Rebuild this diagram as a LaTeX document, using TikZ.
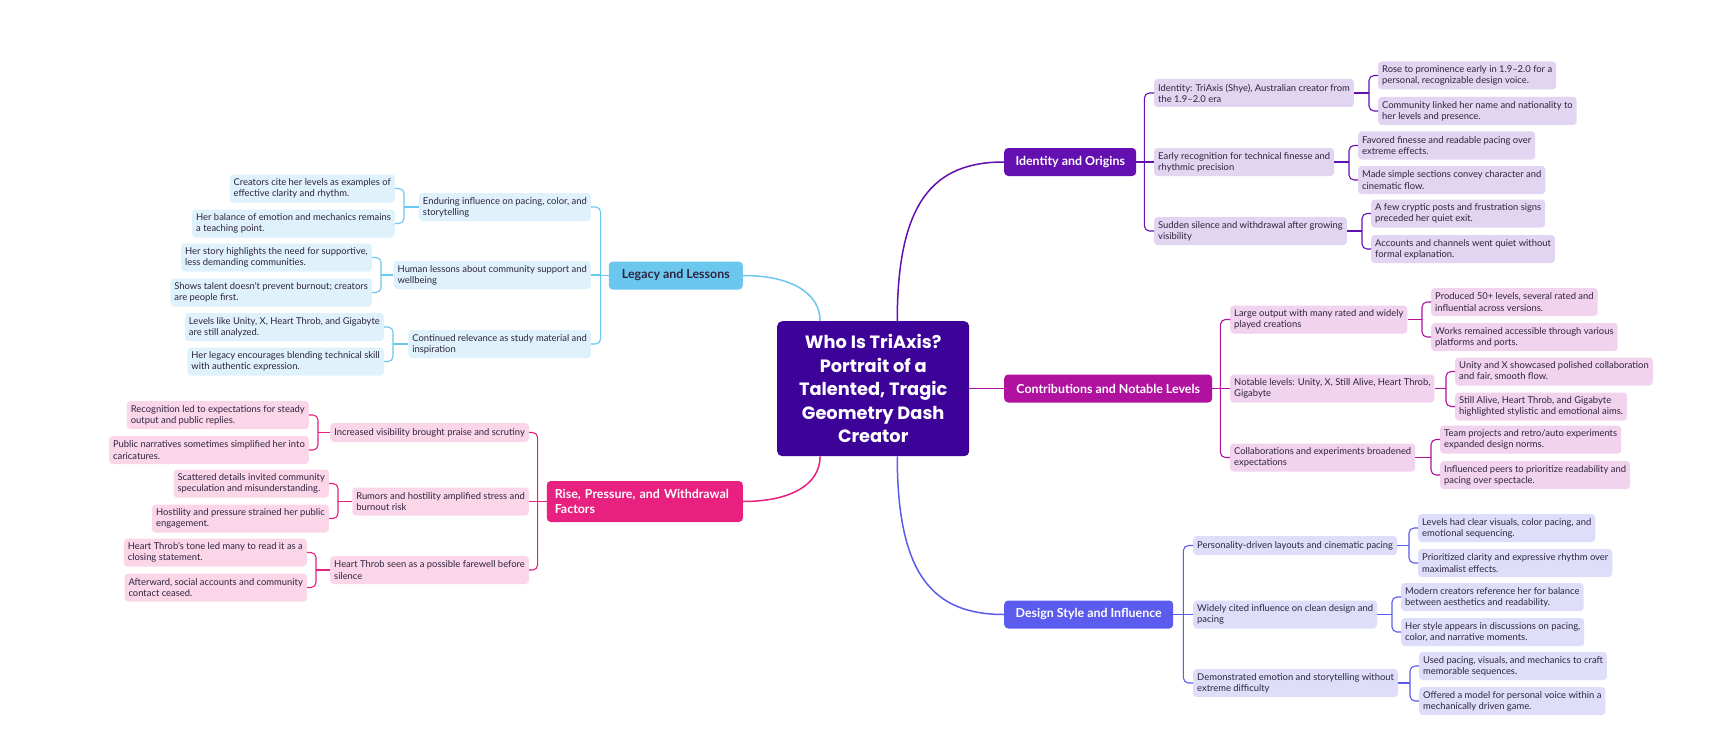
\documentclass[tikz,border=0pt]{standalone}
\usepackage{fontspec}
\usetikzlibrary{calc}
\newfontfamily\latofont{Lato}
\newfontfamily\popfont{Poppins}
\newcommand\smfont{\latofont\fontsize{9.4}{11.2}\selectfont}
\newcommand\brfont{\latofont\bfseries\fontsize{12.4}{15}\selectfont}
\newcommand\rtfont{\popfont\bfseries\fontsize{17.8}{23.5}\selectfont}
\definecolor{rootc}{HTML}{3D0399}
\definecolor{Icol}{HTML}{6410B0}
\definecolor{Ilight}{HTML}{E2D5F1}
\definecolor{Ccol}{HTML}{B0129F}
\definecolor{Clight}{HTML}{F2D3EE}
\definecolor{Dcol}{HTML}{5B5BEE}
\definecolor{Dlight}{HTML}{DEDEFB}
\definecolor{Lcol}{HTML}{6CC7EF}
\definecolor{Llight}{HTML}{DFF1FB}
\definecolor{Rcol}{HTML}{E8207F}
\definecolor{Rlight}{HTML}{FBD6E8}
\definecolor{txt}{HTML}{2E2440}
\tikzset{
  sub/.style={rounded corners=3.5pt, inner xsep=4pt, inner ysep=1pt, minimum height=28pt, align=left, font=\smfont, text=txt},
  one/.style={minimum height=19pt},
  subI/.style={sub, fill=Ilight}, subC/.style={sub, fill=Clight}, subD/.style={sub, fill=Dlight},
  subL/.style={sub, fill=Llight}, subR/.style={sub, fill=Rlight},
  branch/.style={rounded corners=4pt, minimum height=28pt, inner sep=0pt, font=\brfont, text=white},
  lnI/.style={draw=Icol, line width=1.1pt}, lnC/.style={draw=Ccol, line width=1.1pt},
  lnD/.style={draw=Dcol, line width=1.1pt}, lnL/.style={draw=Lcol, line width=1.1pt},
  lnR/.style={draw=Rcol, line width=1.1pt},
}
% right bracket: child, gc1, gc2, style
\newcommand\myrbr[4]{%
  \draw[#4] (#1.east) -- ($(#2.west |- #1.east)+(-9pt,0pt)$);
  \draw[#4, rounded corners=5pt] (#2.west) -| ($(#2.west |- #1.east)+(-9pt,0pt)$) |- (#3.west);}
\newcommand\mylbr[4]{%
  \draw[#4] (#1.west) -- ($(#2.east |- #1.west)+(9pt,0pt)$);
  \draw[#4, rounded corners=5pt] (#2.east) -| ($(#2.east |- #1.west)+(9pt,0pt)$) |- (#3.east);}
\begin{document}
\begin{tikzpicture}[x=1pt,y=-1pt]
\useasboundingbox[fill=white] (0,0) rectangle (1720,741);

% root
\node[fill=rootc, rounded corners=5pt, minimum width=192pt, minimum height=135pt, anchor=north west, align=center, font=\rtfont, text=white, inner sep=0pt] (root) at (777,321) {Who Is TriAxis?\\Portrait of a\\Talented, Tragic\\Geometry Dash\\Creator};

% branches
\node[branch, fill=Icol, minimum width=132pt, anchor=west] (I) at (1004,162) {Identity and Origins};
\node[branch, fill=Ccol, minimum width=208pt, anchor=west] (C) at (1004,388.5) {Contributions and Notable Levels};
\node[branch, fill=Dcol, minimum width=169pt, anchor=west] (D) at (1004,614.5) {Design Style and Influence};
\node[branch, fill=Lcol, minimum width=134pt, anchor=east, text=txt] (L) at (743,275.5) {Legacy and Lessons};
\node[branch, fill=Rcol, minimum width=196pt, minimum height=41pt, anchor=east, align=left, text width=180pt] (R) at (743,501.5) {Rise, Pressure, and Withdrawal\\Factors};

% root connectors
\coordinate (rtI) at ($(root.north west)!0.625!(root.north east)$);
\coordinate (rtD) at ($(root.south west)!0.625!(root.south east)$);
\coordinate (rtL) at ($(root.north west)!0.224!(root.north east)$);
\coordinate (rtR) at ($(root.south west)!0.224!(root.south east)$);
\draw[draw=Icol, line width=1.5pt] (rtI) .. controls ($(rtI)+(0pt,120pt)$) and ($(I.west)+(-70pt,0pt)$) .. (I.west);
\draw[draw=Dcol, line width=1.5pt] (rtD) .. controls ($(rtD)+(0pt,-120pt)$) and ($(D.west)+(-70pt,0pt)$) .. (D.west);
\draw[draw=Lcol, line width=1.5pt] (L.east) .. controls ($(L.east)+(48pt,0pt)$) and ($(rtL)+(0pt,28pt)$) .. (rtL);
\draw[draw=Rcol, line width=1.5pt] (R.east) .. controls ($(R.east)+(48pt,0pt)$) and ($(rtR)+(0pt,-28pt)$) .. (rtR);
\draw[draw=Ccol, line width=1.5pt] (root.east |- C.west) -- (C.west);

% Identity
\node[subI, anchor=west] (I1) at (1154,93) {Identity: TriAxis (Shye), Australian creator from\\the 1.9–2.0 era};
\node[subI, anchor=west] (I2) at (1154,162) {Early recognition for technical finesse and\\rhythmic precision};
\node[subI, anchor=west] (I3) at (1154,231) {Sudden silence and withdrawal after growing\\visibility};
\node[subI, anchor=west] (I1a) at (1378,75.5) {Rose to prominence early in 1.9–2.0 for a\\personal, recognizable design voice.};
\node[subI, anchor=west] (I1b) at (1378,111) {Community linked her name and nationality to\\her levels and presence.};
\node[subI, anchor=west] (I2a) at (1358,145.5) {Favored finesse and readable pacing over\\extreme effects.};
\node[subI, anchor=west] (I2b) at (1358,180) {Made simple sections convey character and\\cinematic flow.};
\node[subI, anchor=west] (I3a) at (1371,213.5) {A few cryptic posts and frustration signs\\preceded her quiet exit.};
\node[subI, anchor=west] (I3b) at (1371,249) {Accounts and channels went quiet without\\formal explanation.};
\coordinate (Itr) at ($(I.east)+(8pt,0pt)$);
\draw[lnI] (I.east) -- (Itr);
\draw[lnI, rounded corners=5pt] (I1.west) -| (Itr) |- (I3.west);
\draw[lnI] (I2.west) -- (I2.west -| Itr);
\myrbr{I1}{I1a}{I1b}{lnI}
\myrbr{I2}{I2a}{I2b}{lnI}
\myrbr{I3}{I3a}{I3b}{lnI}

% Contributions
\node[subC, anchor=west] (C1) at (1230,319.5) {Large output with many rated and widely\\played creations};
\node[subC, anchor=west] (C2) at (1230,388.5) {Notable levels: Unity, X, Still Alive, Heart Throb,\\Gigabyte};
\node[subC, anchor=west] (C3) at (1230,457.5) {Collaborations and experiments broadened\\expectations};
\node[subC, anchor=west] (C1a) at (1431,302) {Produced 50+ levels, several rated and\\influential across versions.};
\node[subC, anchor=west] (C1b) at (1431,337) {Works remained accessible through various\\platforms and ports.};
\node[subC, anchor=west] (C2a) at (1455,371.5) {Unity and X showcased polished collaboration\\and fair, smooth flow.};
\node[subC, anchor=west] (C2b) at (1455,406.5) {Still Alive, Heart Throb, and Gigabyte\\highlighted stylistic and emotional aims.};
\node[subC, anchor=west] (C3a) at (1440,439.5) {Team projects and retro/auto experiments\\expanded design norms.};
\node[subC, anchor=west] (C3b) at (1440,475) {Influenced peers to prioritize readability and\\pacing over spectacle.};
\coordinate (Ctr) at ($(C.east)+(8pt,0pt)$);
\draw[lnC] (C.east) -- (Ctr);
\draw[lnC, rounded corners=5pt] (C1.west) -| (Ctr) |- (C3.west);
\draw[lnC] (C2.west) -- (C2.west -| Ctr);
\myrbr{C1}{C1a}{C1b}{lnC}
\myrbr{C2}{C2a}{C2b}{lnC}
\myrbr{C3}{C3a}{C3b}{lnC}

% Design
\node[subD, one, anchor=west] (D1) at (1193,545.5) {Personality-driven layouts and cinematic pacing};
\node[subD, anchor=west] (D2) at (1193,614.5) {Widely cited influence on clean design and\\pacing};
\node[subD, anchor=west] (D3) at (1193,683) {Demonstrated emotion and storytelling without\\extreme difficulty};
\node[subD, anchor=west] (D1a) at (1418,528) {Levels had clear visuals, color pacing, and\\emotional sequencing.};
\node[subD, anchor=west] (D1b) at (1418,563) {Prioritized clarity and expressive rhythm over\\maximalist effects.};
\node[subD, anchor=west] (D2a) at (1401,597) {Modern creators reference her for balance\\between aesthetics and readability.};
\node[subD, anchor=west] (D2b) at (1401,632) {Her style appears in discussions on pacing,\\color, and narrative moments.};
\node[subD, anchor=west] (D3a) at (1419,666) {Used pacing, visuals, and mechanics to craft\\memorable sequences.};
\node[subD, anchor=west] (D3b) at (1419,701) {Offered a model for personal voice within a\\mechanically driven game.};
\coordinate (Dtr) at ($(D.east)+(10pt,0pt)$);
\draw[lnD] (D.east) -- (Dtr);
\draw[lnD, rounded corners=5pt] (D1.west) -| (Dtr) |- (D3.west);
\draw[lnD] (D2.west) -- (D2.west -| Dtr);
\myrbr{D1}{D1a}{D1b}{lnD}
\myrbr{D2}{D2a}{D2b}{lnD}
\myrbr{D3}{D3a}{D3b}{lnD}

% Legacy
\node[subL, anchor=east] (L1) at (591,207) {Enduring influence on pacing, color, and\\storytelling};
\node[subL, anchor=east] (L2) at (591,275) {Human lessons about community support and\\wellbeing};
\node[subL, anchor=east] (L3) at (591,344) {Continued relevance as study material and\\inspiration};
\node[subL, anchor=east] (L1a) at (395,188.5) {Creators cite her levels as examples of\\effective clarity and rhythm.};
\node[subL, anchor=east] (L1b) at (395,223.5) {Her balance of emotion and mechanics remains\\a teaching point.};
\node[subL, anchor=east] (L2a) at (372,257.5) {Her story highlights the need for supportive,\\less demanding communities.};
\node[subL, anchor=east] (L2b) at (372,292.5) {Shows talent doesn't prevent burnout; creators\\are people first.};
\node[subL, anchor=east] (L3a) at (384,327) {Levels like Unity, X, Heart Throb, and Gigabyte\\are still analyzed.};
\node[subL, anchor=east] (L3b) at (384,361.5) {Her legacy encourages blending technical skill\\with authentic expression.};
\coordinate (Ltr) at ($(L.west)+(-8pt,0pt)$);
\draw[lnL] (L.west) -- (Ltr);
\draw[lnL, rounded corners=5pt] (L1.east) -| (Ltr) |- (L3.east);
\draw[lnL] (L2.east) -- (L2.east -| Ltr);
\mylbr{L1}{L1a}{L1b}{lnL}
\mylbr{L2}{L2a}{L2b}{lnL}
\mylbr{L3}{L3a}{L3b}{lnL}

% Rise
\node[subR, one, anchor=east] (R1) at (529,432.5) {Increased visibility brought praise and scrutiny};
\node[subR, anchor=east] (R2) at (529,501.5) {Rumors and hostility amplified stress and\\burnout risk};
\node[subR, anchor=east] (R3) at (529,570) {Heart Throb seen as a possible farewell before\\silence};
\node[subR, anchor=east] (R1a) at (309,415) {Recognition led to expectations for steady\\output and public replies.};
\node[subR, anchor=east] (R1b) at (309,450) {Public narratives sometimes simplified her into\\caricatures.};
\node[subR, anchor=east] (R2a) at (329,483.5) {Scattered details invited community\\speculation and misunderstanding.};
\node[subR, anchor=east] (R2b) at (329,518.5) {Hostility and pressure strained her public\\engagement.};
\node[subR, anchor=east] (R3a) at (307,552.5) {Heart Throb's tone led many to read it as a\\closing statement.};
\node[subR, anchor=east] (R3b) at (307,587.5) {Afterward, social accounts and community\\contact ceased.};
\coordinate (Rtr) at ($(R.west)+(-9pt,0pt)$);
\draw[lnR] (R.west) -- (Rtr);
\draw[lnR, rounded corners=5pt] (R1.east) -| (Rtr) |- (R3.east);
\draw[lnR] (R2.east) -- (R2.east -| Rtr);
\mylbr{R1}{R1a}{R1b}{lnR}
\mylbr{R2}{R2a}{R2b}{lnR}
\mylbr{R3}{R3a}{R3b}{lnR}
\end{tikzpicture}
\end{document}
